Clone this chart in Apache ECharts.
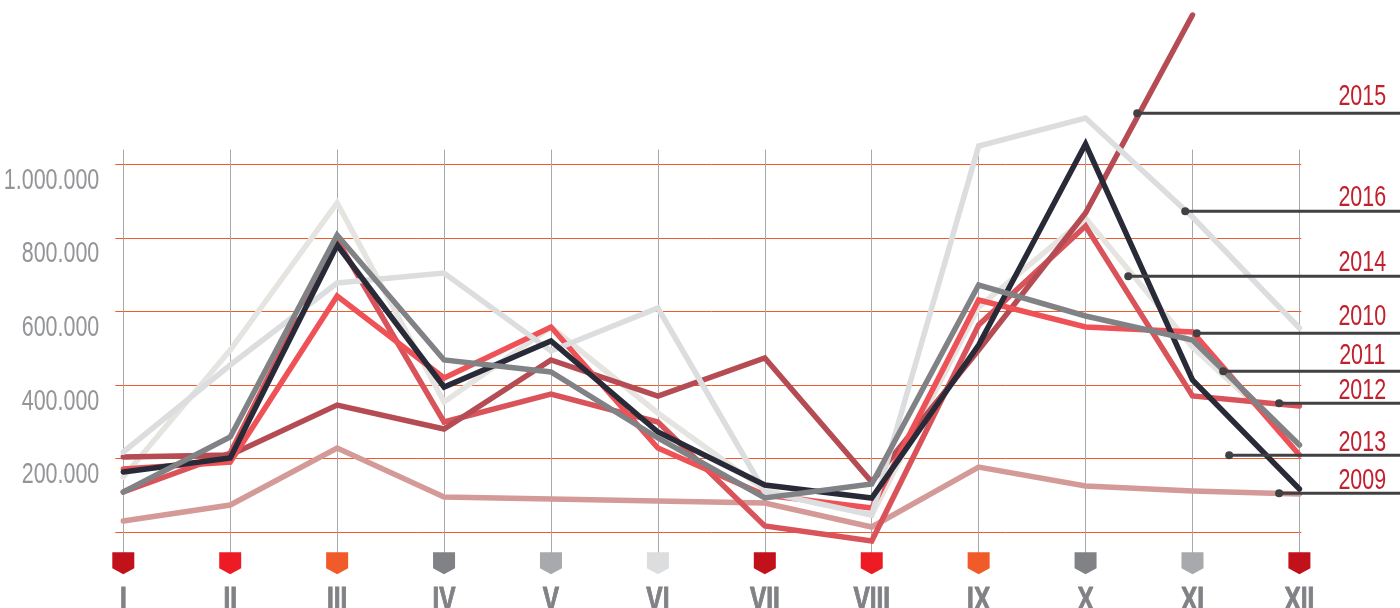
<!DOCTYPE html>
<html>
<head>
<meta charset="utf-8">
<title>Monthly values 2009-2016</title>
<script src="https://cdn.jsdelivr.net/npm/echarts@6/dist/echarts.min.js"></script>
<style>
  html, body { margin: 0; padding: 0; background: #fff; overflow: hidden; }
  #chart { width: 1400px; height: 608px; }
</style>
</head>
<body>
<div id="chart"></div>
<script>
const months = ['I', 'II', 'III', 'IV', 'V', 'VI', 'VII', 'VIII', 'IX', 'X', 'XI', 'XII']
const yTicks = [0, 200000, 400000, 600000, 800000, 1000000]
const yTickLabels = ['', '200.000', '400.000', '600.000', '800.000', '1.000.000']

const values2009 = [30700, 74200, 229100, 95900, 90500, 85100, 79600, 14400, 177400, 125800, 112200, 104100]
const values2010 = [172000, 191000, 642100, 419300, 557900, 229100, 101400, 66000, 631300, 557900, 544300, 210100]
const values2011 = [109500, 259000, 807900, 468200, 435600, 256300, 93200, 131300, 672000, 587800, 522600, 237200]
const values2012 = [109500, 215500, 794300, 299700, 375800, 299700, 17100, -23600, 563300, 832300, 370400, 343200]
const values2013 = [164000, 201900, 780700, 394800, 519800, 272600, 128500, 93200, 509000, 1055000, 413900, 117700]
const values2014 = [150300, 495400, 894900, 354100, 557900, 324200, 114900, 47000, 612200, 854000, 503500, 237200]
const values2015 = [204600, 210100, 345900, 280700, 468200, 370400, 473600, 136700, 495400, 867700, 1405700, null]
const values2016 = [218200, 454600, 677400, 704600, 492700, 609500, 109500, 47000, 1049700, 1125800, 856800, 555200]

// where each year's callout starts, month position (0 = I) and value
const calloutYears = ['2015', '2016', '2014', '2010', '2011', '2012', '2013', '2009']
const calloutMonths = [9.483, 9.932, 9.399, 10.04, 10.287, 10.81, 10.343, 10.81]
const calloutValues = [1138600, 872300, 695650, 540760, 437500, 350540, 209240, 105980]
const calloutGaps = [3, 0, 0, 3, 2, -1, -1, -1]

const markerColors = ['#c1121c', '#ed1c24', '#f15a29', '#808285', '#a7a9ac', '#dcddde',
  '#c1121c', '#ed1c24', '#f15a29', '#808285', '#a7a9ac', '#c1121c']

const lineColors = {
  2009: '#d39a98',
  2010: '#ee5257',
  2011: '#808285',
  2012: '#d9535a',
  2013: '#282a37',
  2014: '#e6e4e1',
  2015: '#b54b53',
  2016: '#dcddde'
}

const labelFont = '"Liberation Sans"'
const monthStep = 106.92 // px between two months, used for the callout axis
const calloutAxisMax = (1400 - 123.3) / monthStep

function yearLine(year, data) {
  return {
    name: year,
    type: 'line',
    data: data,
    symbol: 'none',
    clip: false,
    silent: true,
    lineStyle: {
      width: 5.5,
      color: lineColors[year],
      join: 'miter',
      cap: 'round'
    }
  }
}

const series = [
  yearLine('2009', values2009),
  yearLine('2014', values2014),
  yearLine('2012', values2012),
  yearLine('2015', values2015),
  yearLine('2010', values2010),
  yearLine('2016', values2016),
  yearLine('2013', values2013),
  yearLine('2011', values2011),
  {
    // small shields under the month lines
    type: 'scatter',
    data: months.map((m, i) => ({
      value: 0,
      itemStyle: { color: markerColors[i], opacity: 1 }
    })),
    symbol: 'path://M0,0 H22 V16 L11,22 L0,16 Z',
    symbolSize: 22,
    symbolOffset: [0, 31],
    clip: false,
    silent: true,
    z: 3
  }
]

calloutYears.forEach((year, i) => {
  series.push({
    type: 'line',
    xAxisIndex: 1,
    yAxisIndex: 2,
    clip: false,
    silent: true,
    z: 5,
    lineStyle: { width: 3, color: '#414042' },
    itemStyle: { color: '#414042' },
    showAllSymbol: true,
    data: [
      { value: [calloutMonths[i], calloutValues[i]], symbol: 'circle', symbolSize: 8 },
      {
        value: [calloutAxisMax, calloutValues[i]],
        symbol: 'circle',
        symbolSize: 1,
        label: {
          show: true,
          formatter: year,
          position: 'top',
          distance: 5 + calloutGaps[i],
          offset: [-51, 7],
          color: '#c1202d',
          fontFamily: labelFont,
          fontSize: 29
        }
      }
    ]
  })
})

const chart = echarts.init(document.getElementById('chart'), null, { renderer: 'canvas' })
chart.setOption({
  animation: false,
  backgroundColor: '#fff',
  grid: [
    { left: 123.3, right: 100.6, top: 149.6, bottom: 75.7, outerBoundsMode: 'none' },
    { left: 123.3, right: 0, top: 149.6, bottom: 75.7, outerBoundsMode: 'none' }
  ],
  xAxis: [
    {
      type: 'category',
      data: months,
      boundaryGap: false,
      axisLine: { show: false },
      axisTick: {
        show: true,
        alignWithLabel: true,
        length: 23,
        lineStyle: { color: '#a7a9ac', width: 1 }
      },
      splitLine: { show: true, lineStyle: { color: '#a7a9ac', width: 1 } },
      axisLabel: {
        interval: 0,
        margin: 52,
        color: '#808285',
        fontFamily: labelFont,
        fontWeight: 'bold',
        fontSize: 33,
        textBorderColor: '#808285',
        textBorderWidth: 1,
        showMinLabel: true,
        showMaxLabel: true
      }
    },
    { type: 'value', gridIndex: 1, min: 0, max: calloutAxisMax, show: false }
  ],
  yAxis: [
    {
      type: 'value',
      min: 0,
      max: 1040000,
      axisLine: { show: false },
      axisTick: {
        show: true,
        length: 8,
        customValues: yTicks,
        lineStyle: { color: '#f15a29', width: 1 }
      },
      splitLine: { show: true, lineStyle: { color: '#f15a29', width: 1 } },
      axisLabel: {
        customValues: yTicks,
        margin: 24,
        verticalAlign: 'top',
        padding: [2, 0, 0, 0],
        color: '#939598',
        fontFamily: labelFont,
        fontSize: 29,
        formatter: (value) => yTickLabels[yTicks.indexOf(value)]
      }
    },
    {
      // only carries the short overhang of the grid lines on the right
      type: 'value',
      position: 'right',
      min: 0,
      max: 1040000,
      axisLine: { show: false },
      axisTick: {
        show: true,
        length: 2,
        customValues: yTicks,
        lineStyle: { color: '#f15a29', width: 1 }
      },
      splitLine: { show: false },
      axisLabel: { show: false }
    },
    { type: 'value', gridIndex: 1, min: 0, max: 1040000, show: false }
  ],
  series: series
})

// no condensed font is installed, so squeeze the text sideways instead
const zr = chart.getZr()
zr.storage.getDisplayList(true).forEach((el) => {
  if (el.type === 'tspan' && el.parent) {
    el.parent.scaleX = 0.74
    el.parent.markRedraw()
  }
})
zr.refresh()
</script>
</body>
</html>
